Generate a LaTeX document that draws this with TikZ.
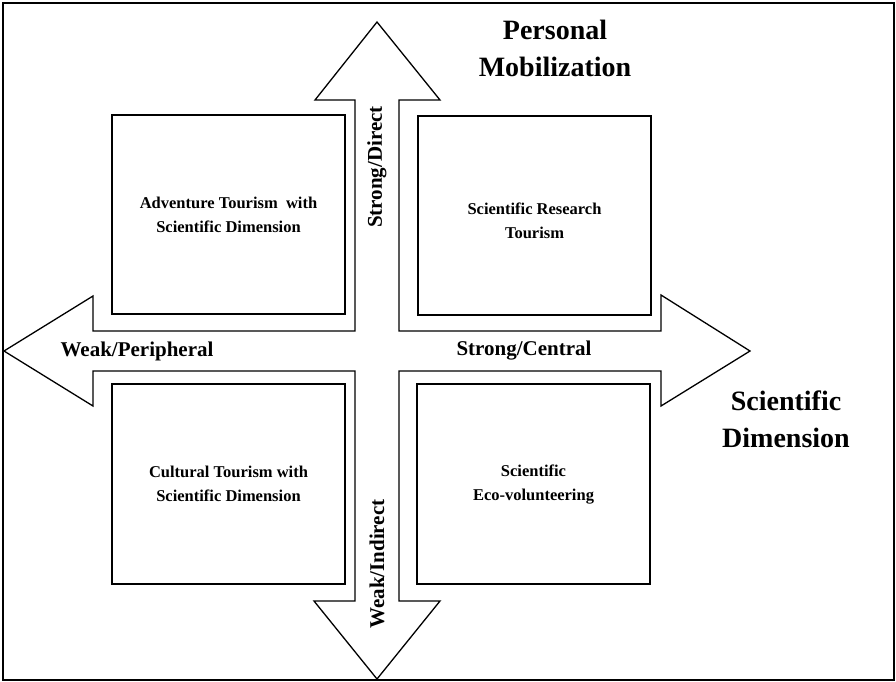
\documentclass[tikz,border=0pt]{standalone}
\usepackage{fontspec}
\setmainfont{Liberation Serif}
\begin{document}
\begin{tikzpicture}[x=1pt,y=-1pt,
  quad/.style={draw=black, line width=1.6pt, minimum width=233pt, minimum height=199pt, inner sep=0pt,
    font=\bfseries\fontsize{16.5}{24}\selectfont, align=center},
  quadtext/.style={font=\bfseries\fontsize{16.5}{24}\selectfont, align=center, inner sep=0pt},
  axislabel/.style={font=\bfseries\fontsize{21}{25}\selectfont, inner sep=0pt},
  heading/.style={font=\bfseries\fontsize{28}{37}\selectfont, align=center, inner sep=0pt}]
\useasboundingbox (0,0) rectangle (896,681);
% frame
\draw[line width=1.6pt] (3,3) rectangle (894,680);
% four-way arrow
\draw[line width=1.3pt, line join=miter]
  (377,22) -- (440,100) -- (399,100) -- (399,331) -- (661,331) -- (661,295) -- (750,351)
  -- (661,406) -- (661,371) -- (399,371) -- (399,601) -- (440,601) -- (377,679)
  -- (314,601) -- (355,601) -- (355,371) -- (93,371) -- (93,406) -- (4,351)
  -- (93,296) -- (93,331) -- (355,331) -- (355,100) -- (315,100) -- cycle;
% quadrants
\node[quad] (tl) at (228.5,214.5) {Adventure Tourism~ with\\Scientific Dimension};
\node[quad] (tr) at (534.5,215.5) {};
\node[quadtext] (trtext) at (534.5,221) {Scientific Research\\Tourism};
\node[quad, minimum height=200pt] (bl) at (228.5,484) {Cultural Tourism with\\Scientific Dimension};
\node[quad, minimum height=200pt] (br) at (533.5,484) {Scientific\\Eco-volunteering};
% axis labels
\node[axislabel] (weak) at (137,351) {Weak/Peripheral};
\node[axislabel] (strong) at (524,351) {Strong/Central};
\node[axislabel, rotate=90] (direct) at (377,167) {Strong/Direct};
\node[axislabel, rotate=90] (indirect) at (377,564) {Weak/Indirect};
% axis titles
\node[heading] (mob) at (555,48) {Personal\\Mobilization};
\node[heading] (sci) at (786,419) {Scientific\\Dimension};
\end{tikzpicture}
\end{document}
